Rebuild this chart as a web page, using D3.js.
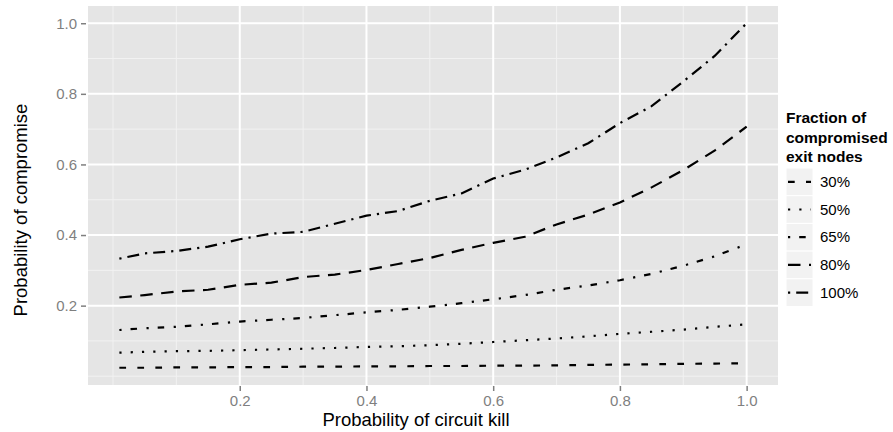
<!DOCTYPE html>
<html>
<head>
  <meta charset="utf-8">
  <title>Probability of compromise</title>
  <script src="https://cdn.jsdelivr.net/npm/d3@7"></script>
  <style>
    body { margin: 0; background: #fff; }
    text { font-family: "Liberation Sans", Arial, Helvetica, sans-serif; }
  </style>
</head>
<body>
  <svg width="893" height="432" id="mainsvg"></svg>
  <script>
    // data
    const killProb = [0.01, 0.05, 0.10, 0.15, 0.20, 0.25, 0.30, 0.35, 0.40, 0.45, 0.50,
                      0.55, 0.60, 0.65, 0.70, 0.75, 0.80, 0.85, 0.90, 0.95, 1.00];
    const fractions = ['30%', '50%', '65%', '80%', '100%'];
    const comp30  = [0.024, 0.024, 0.025, 0.025, 0.026, 0.026, 0.027, 0.027, 0.028, 0.028, 0.029,
                     0.029, 0.030, 0.030, 0.031, 0.032, 0.033, 0.034, 0.035, 0.036, 0.037];
    const comp50  = [0.067, 0.069, 0.071, 0.072, 0.074, 0.076, 0.078, 0.080, 0.083, 0.085, 0.088,
                     0.092, 0.097, 0.102, 0.107, 0.113, 0.120, 0.126, 0.132, 0.140, 0.147];
    const comp65  = [0.131, 0.136, 0.140, 0.147, 0.155, 0.160, 0.165, 0.173, 0.181, 0.188, 0.197,
                     0.207, 0.218, 0.230, 0.245, 0.257, 0.272, 0.290, 0.313, 0.340, 0.374];
    const comp80  = [0.223, 0.230, 0.240, 0.245, 0.259, 0.265, 0.281, 0.288, 0.301, 0.318, 0.335,
                     0.358, 0.378, 0.395, 0.430, 0.458, 0.492, 0.535, 0.584, 0.640, 0.707];
    const comp100 = [0.333, 0.348, 0.355, 0.367, 0.388, 0.404, 0.409, 0.432, 0.455, 0.468, 0.497,
                     0.518, 0.560, 0.585, 0.620, 0.660, 0.717, 0.765, 0.835, 0.908, 1.000];
    const xTicks = [0.2, 0.4, 0.6, 0.8, 1.0];
    const yTicks = [0.2, 0.4, 0.6, 0.8, 1.0];
    const xMinor = [0.0, 0.1, 0.3, 0.5, 0.7, 0.9];
    const yMinor = [0.0, 0.1, 0.3, 0.5, 0.7, 0.9];

    const series = [comp30, comp50, comp65, comp80, comp100].map((vals, i) => ({
        name: fractions[i],
        values: vals.map((v, j) => ({x: killProb[j], y: v}))
    }));

    // line types, one per fraction
    const dashes = {
        '30%': '6.7,11.3',
        '50%': '2.2,9.1',
        '65%': '2.2,9,6.5,9.5',
        '80%': '12.5,8.5',
        '100%': '2.2,6,12,6'
    };

    const svg = d3.select('svg');
    const panel = {left: 88, right: 778, top: 6, bottom: 385};

    // ggplot-style 5% expansion
    const xExt = d3.extent(killProb);
    const yExt = d3.extent(series.flatMap(s => s.values.map(d => d.y)));
    const xPad = (xExt[1] - xExt[0]) * 0.05;
    const yPad = (yExt[1] - yExt[0]) * 0.05;
    const x = d3.scaleLinear().domain([xExt[0] - xPad, xExt[1] + xPad]).range([panel.left, panel.right]);
    const y = d3.scaleLinear().domain([yExt[0] - yPad, yExt[1] + yPad]).range([panel.bottom, panel.top]);

    // panel background
    svg.append('rect')
        .attr('x', panel.left).attr('y', panel.top)
        .attr('width', panel.right - panel.left).attr('height', panel.bottom - panel.top)
        .attr('fill', '#E5E5E5');

    const grid = svg.append('g');
    grid.selectAll('.xminor').data(xMinor).join('line')
        .attr('x1', d => x(d)).attr('x2', d => x(d))
        .attr('y1', panel.top).attr('y2', panel.bottom)
        .attr('stroke', '#F2F2F2').attr('stroke-width', 1);
    grid.selectAll('.yminor').data(yMinor).join('line')
        .attr('y1', d => y(d)).attr('y2', d => y(d))
        .attr('x1', panel.left).attr('x2', panel.right)
        .attr('stroke', '#F2F2F2').attr('stroke-width', 1);
    grid.selectAll('.xmajor').data(xTicks).join('line')
        .attr('x1', d => x(d)).attr('x2', d => x(d))
        .attr('y1', panel.top).attr('y2', panel.bottom)
        .attr('stroke', '#FFFFFF').attr('stroke-width', 2);
    grid.selectAll('.ymajor').data(yTicks).join('line')
        .attr('y1', d => y(d)).attr('y2', d => y(d))
        .attr('x1', panel.left).attr('x2', panel.right)
        .attr('stroke', '#FFFFFF').attr('stroke-width', 2);

    // axes
    const xAxis = svg.append('g')
        .attr('transform', `translate(0, ${panel.bottom + 1})`)
        .call(d3.axisBottom(x).tickValues(xTicks).tickFormat(d3.format('.1f')).tickSize(5).tickPadding(4));
    const yAxis = svg.append('g')
        .attr('transform', `translate(${panel.left - 2}, 0)`)
        .call(d3.axisLeft(y).tickValues(yTicks).tickFormat(d3.format('.1f')).tickSize(5).tickPadding(4));
    [xAxis, yAxis].forEach(g => {
        g.select('.domain').remove();
        g.selectAll('.tick line').attr('stroke', '#7F7F7F').attr('stroke-width', 1.5);
        g.selectAll('.tick text').attr('fill', '#7F7F7F')
            .style('font-size', '15px')
            .style('font-family', '"Liberation Sans", Arial, sans-serif');
    });

    // lines
    const line = d3.line().x(d => x(d.x)).y(d => y(d.y));
    svg.append('g').selectAll('.series').data(series).join('path')
        .attr('class', 'series')
        .attr('d', d => line(d.values))
        .attr('fill', 'none')
        .attr('stroke', '#000')
        .attr('stroke-width', 2.2)
        .attr('stroke-dasharray', d => dashes[d.name]);

    // axis titles
    svg.append('text')
        .attr('x', 416).attr('y', 426)
        .attr('text-anchor', 'middle')
        .style('font-size', '18.5px')
        .text('Probability of circuit kill');
    svg.append('text')
        .attr('transform', 'translate(27, 210) rotate(-90)')
        .attr('text-anchor', 'middle')
        .style('font-size', '18.5px')
        .text('Probability of compromise');

    // legend
    const legend = svg.append('g').attr('transform', 'translate(786, 0)');
    legend.selectAll('.ltitle').data(['Fraction of', 'compromised', 'exit nodes']).join('text')
        .attr('x', 0).attr('y', (d, i) => 123 + i * 19.5)
        .style('font-size', '15.5px').style('font-weight', 'bold')
        .text(d => d);
    const keys = legend.selectAll('.key').data(fractions).join('g')
        .attr('transform', (d, i) => `translate(0, ${168 + i * 27.7})`);
    keys.append('rect')
        .attr('width', 27).attr('height', 27.7)
        .attr('fill', '#F2F2F2').attr('stroke', '#FFFFFF').attr('stroke-width', 1);
    keys.append('line')
        .attr('x1', 2).attr('x2', 25).attr('y1', 13.8).attr('y2', 13.8)
        .attr('stroke', '#000').attr('stroke-width', 2.2)
        .attr('stroke-dasharray', d => dashes[d]);
    keys.append('text')
        .attr('x', 34).attr('y', 13.8).attr('dy', '0.35em')
        .style('font-size', '15px')
        .text(d => d);
  </script>
</body>
</html>
